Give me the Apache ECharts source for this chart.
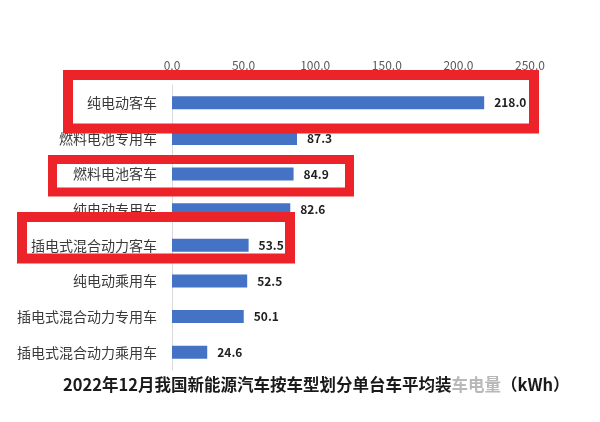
<!DOCTYPE html>
<html><head><meta charset="utf-8">
<script src="https://cdn.jsdelivr.net/npm/echarts@6/dist/echarts.min.js"></script>
<style>html,body{margin:0;padding:0;background:#fff}#c{width:600px;height:422px}</style>
</head><body><div id="c"></div>
<script>
const categories = ['纯电动客车','燃料电池专用车','燃料电池客车','纯电动专用车','插电式混合动力客车','纯电动乘用车','插电式混合动力专用车','插电式混合动力乘用车'];
const values = [218.0, 87.3, 84.9, 82.6, 53.5, 52.5, 50.1, 24.6];
const axisMax = 250;
const axisStep = 50;
const titleMain = '2022年12月我国新能源汽车按车型划分单台车平均装';
const titleFaded = '车电量';
const titleUnit = '（kWh）';

const FONT = '"Noto Sans CJK SC", "Noto Sans", sans-serif';
const RED = '#ec2329';
const chart = echarts.init(document.getElementById('c'), null, {renderer: 'canvas'});
chart.setOption({
  backgroundColor: '#fff',
  animation: false,
  textStyle: {fontFamily: FONT},
  title: {
    text: '{a|' + titleMain + '}{b|' + titleFaded + '}{a|' + titleUnit + '}',
    left: 58, top: 371,
    textStyle: {
      rich: {
        a: {fontSize: 16.5, fontWeight: 'bold', color: '#1a1a1a', fontFamily: FONT},
        b: {fontSize: 16.5, fontWeight: 'bold', color: '#b8b8b8', fontFamily: FONT}
      }
    }
  },
  grid: {left: 172, right: 70, top: 85, bottom: 52, containLabel: false},
  xAxis: {
    type: 'value', position: 'top', min: 0, max: axisMax, interval: axisStep,
    axisLine: {show: false}, axisTick: {show: false},
    splitLine: {show: false},
    axisLabel: {color: '#595959', fontSize: 12, margin: 14, fontFamily: FONT,
      formatter: v => v.toFixed(1)}
  },
  yAxis: {
    type: 'category', data: categories, inverse: true,
    axisLine: {show: true, lineStyle: {color: '#d9d9d9', width: 1}},
    axisTick: {show: false},
    axisLabel: {color: '#3a3a3a', fontSize: 14, margin: 15, fontFamily: FONT}
  },
  series: [{
    type: 'bar', data: values, barWidth: 13,
    itemStyle: {color: '#4472c4'},
    label: {show: true, position: 'right', distance: 10, color: '#1f1f1f',
      fontSize: 12, fontWeight: 'bold', fontFamily: FONT,
      formatter: p => p.value.toFixed(1)}
  }],
  graphic: [
    {type: 'rect', z: 100, shape: {x: 68, y: 75, width: 466, height: 53.5},
     style: {fill: 'none', stroke: RED, lineWidth: 10}},
    {type: 'rect', z: 100, shape: {x: 52.5, y: 159.5, width: 297, height: 32.5},
     style: {fill: 'none', stroke: RED, lineWidth: 9}},
    {type: 'rect', z: 100, shape: {x: 22, y: 217, width: 268, height: 41.5},
     style: {fill: 'none', stroke: RED, lineWidth: 10}}
  ]
});
</script></body></html>
